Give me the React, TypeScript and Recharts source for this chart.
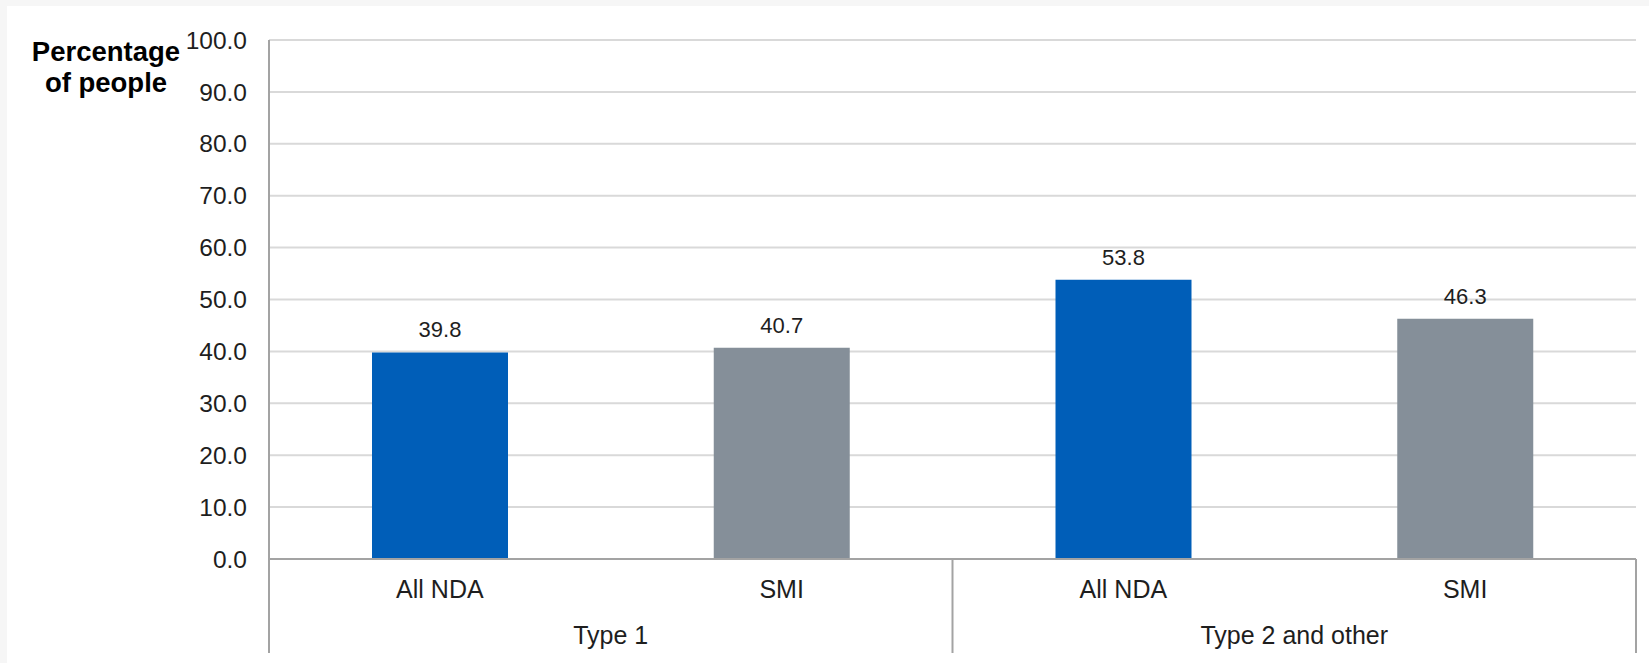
import React from "react";
import { BarChart, Bar, XAxis, YAxis, CartesianGrid, Cell, LabelList } from "recharts";

// Subgroup labels under each bar
const categories = ["All NDA", "SMI", "All NDA", "SMI"];
// Diabetes type that each bar belongs to
const groups = ["Type 1", "Type 1", "Type 2 and other", "Type 2 and other"];
// Percentage of people
const values = [39.8, 40.7, 53.8, 46.3];
const barColors = ["#005EB8", "#858F99", "#005EB8", "#858F99"];
const yTicks = [0, 10, 20, 30, 40, 50, 60, 70, 80, 90, 100];

const data = categories.map((name, i) => ({ name, group: groups[i], value: values[i] }));

const FONT = "'Liberation Sans', Arial, Helvetica, sans-serif";
const TEXT = "#1e1e1e";
const AXIS = "#a3a3a3";
const CAT_AXIS_DEPTH = 94;

// Two-level category tick: subgroup name, group name centred under each pair,
// and the vertical separators between groups.
const CategoryTick = (props: any) => {
  const { x, y, payload, index } = props;
  const half = payload && payload.offset ? payload.offset : 1367 / 8;
  const n = categories.length;
  const parts: React.ReactNode[] = [];
  parts.push(
    <text key="t" x={x} y={y + 39} textAnchor="middle" fontSize={25} fill={TEXT} fontFamily={FONT}>
      {payload.value}
    </text>
  );
  const startsGroup = index === 0 || groups[index] !== groups[index - 1];
  if (startsGroup) {
    parts.push(
      <line key="l" x1={x - half} x2={x - half} y1={y} y2={y + CAT_AXIS_DEPTH} stroke={AXIS} strokeWidth={2} />
    );
  }
  if (index === n - 1) {
    parts.push(
      <line key="r" x1={x + half} x2={x + half} y1={y} y2={y + CAT_AXIS_DEPTH} stroke={AXIS} strokeWidth={2} />
    );
  }
  const endsGroup = index === n - 1 || groups[index] !== groups[index + 1];
  if (endsGroup) {
    let first = index;
    while (first > 0 && groups[first - 1] === groups[index]) first--;
    const count = index - first + 1;
    const cx = x - (count - 1) * half;
    parts.push(
      <text key="g" x={cx} y={y + 85} textAnchor="middle" fontSize={25} fill={TEXT} fontFamily={FONT}>
        {groups[index]}
      </text>
    );
  }
  return <g>{parts}</g>;
};

const ValueLabel = (props: any) => {
  const { x, y, width, value } = props;
  return (
    <text x={x + width / 2} y={y - 15} textAnchor="middle" fontSize={22} fill={TEXT} fontFamily={FONT}>
      {Number(value).toFixed(1)}
    </text>
  );
};

export default function App() {
  return (
    <div style={{ position: "absolute", left: 0, top: 0, width: 1649, height: 663, background: "#f6f6f6", overflow: "hidden" }}>
      <div style={{ position: "absolute", left: 7, top: 6, width: 1642, height: 657, background: "#ffffff" }} />
      <div
        style={{
          position: "absolute",
          left: 6,
          top: 36,
          width: 200,
          textAlign: "center",
          fontFamily: FONT,
          fontWeight: "bold",
          fontSize: 27.5,
          lineHeight: "31px",
          color: "#000",
        }}
      >
        Percentage
        <br />
        of people
      </div>
      <div style={{ position: "absolute", left: 0, top: 0 }}>
        <BarChart
          width={1649}
          height={663}
          data={data}
          margin={{ top: 40, right: 13, bottom: 10, left: 0 }}
          barSize={136}
        >
          <CartesianGrid horizontal vertical={false} stroke="#d9d9d9" strokeWidth={2} />
          <XAxis
            dataKey="name"
            type="category"
            allowDuplicatedCategory
            interval={0}
            height={94}
            tickSize={0}
            tickMargin={0}
            tickLine={false}
            axisLine={{ stroke: AXIS, strokeWidth: 2 }}
            tick={<CategoryTick />}
          />
          <YAxis
            type="number"
            domain={[0, 100]}
            ticks={yTicks}
            interval={0}
            width={269}
            tickSize={0}
            tickMargin={22}
            tickLine={false}
            axisLine={{ stroke: AXIS, strokeWidth: 2 }}
            tickFormatter={(v: number) => v.toFixed(1)}
            tick={{ fontSize: 24.5, fill: TEXT, fontFamily: FONT }}
          />
          <Bar dataKey="value" isAnimationActive={false}>
            {data.map((d, i) => (
              <Cell key={i} fill={barColors[i]} />
            ))}
            <LabelList dataKey="value" content={<ValueLabel />} />
          </Bar>
        </BarChart>
      </div>
    </div>
  );
}
